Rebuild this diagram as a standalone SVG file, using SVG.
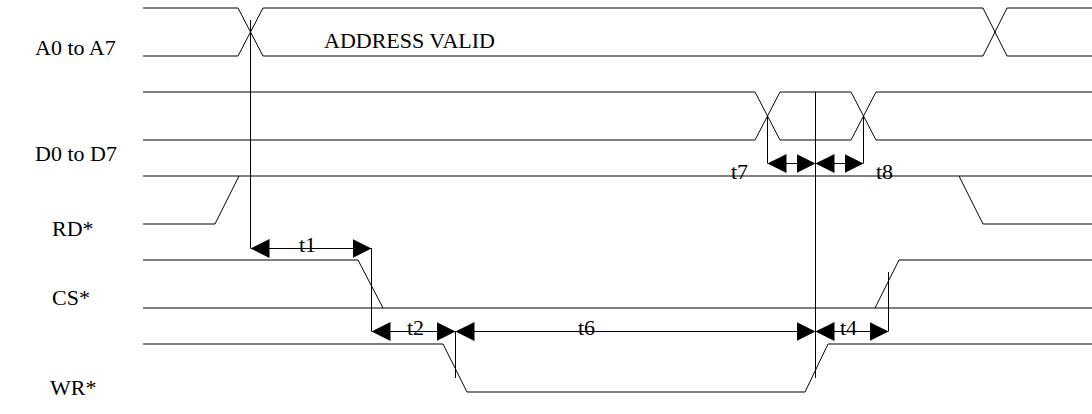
<svg xmlns="http://www.w3.org/2000/svg" width="1092" height="414" viewBox="0 0 1092 414">
<style>
  .bg { fill: #ffffff; }
  .guide { fill: none; stroke: #000; stroke-width: 1; }
  .edge { fill: none; stroke: #000; stroke-width: 1; }
  .dim { fill: none; stroke: #000; stroke-width: 1; marker-start: url(#arr); marker-end: url(#arr); }
  text { font-family: 'Liberation Serif', 'Times New Roman', serif; font-size: 22px; fill: #000; }
</style>
<defs>
  <marker id="arr" markerUnits="userSpaceOnUse" markerWidth="20" markerHeight="19" refX="19" refY="9.5" orient="auto-start-reverse" viewBox="0 0 20 19">
    <path d="M0,0 L19,9.5 L0,19 Z" fill="#000"/>
  </marker>
</defs>
<rect class="bg" x="0" y="0" width="1092" height="414"/>

<g id="sig-a">
  <text x="35" y="55">A0 to A7</text>
  <path class="guide" d="M143,8 H238 L263,56 H983 L1007,8 H1092"/>
  <path class="guide" d="M143,56 H238 L263,8 H983 L1007,56 H1092"/>
  <text x="324" y="48">ADDRESS VALID</text>
</g>

<g id="sig-d">
  <text x="35" y="161">D0 to D7</text>
  <path class="guide" d="M143,92 H755 L780,140 H851 L876,92 H1092"/>
  <path class="guide" d="M143,140 H755 L780,92 H851 L876,140 H1092"/>
</g>

<g id="sig-rd">
  <text x="52" y="236">RD*</text>
  <path class="guide" d="M143,176 H1092"/>
  <path class="edge" d="M143,224 H215 L239,176"/>
  <path class="edge" d="M959,176 L983,224 H1092"/>
</g>

<g id="sig-cs">
  <text x="52" y="305">CS*</text>
  <path class="edge" d="M143,260 H358 L383,308"/>
  <path class="guide" d="M143,308 H1092"/>
  <path class="edge" d="M875,308 L899,260 H1092"/>
</g>

<g id="sig-wr">
  <text x="50" y="395">WR*</text>
  <path class="edge" d="M143,344 H443 L467,392 H805 L828,344 H1092"/>
</g>

<g id="connectors">
  <path class="edge" d="M250.5,20 V248"/>
  <path class="edge" d="M371.5,248 V331"/>
  <path class="edge" d="M455.5,331 V378"/>
  <path class="edge" d="M888.5,272 V331"/>
  <path class="edge" d="M767.5,116 V163"/>
  <path class="edge" d="M863.5,116 V163"/>
  <path class="edge" d="M815.5,92 V378"/>

  <line class="dim" x1="250.5" y1="248.5" x2="371.5" y2="248.5"/>
  <line class="dim" x1="371.5" y1="331.5" x2="455.5" y2="331.5"/>
  <line class="dim" x1="455.5" y1="331.5" x2="815.5" y2="331.5"/>
  <line class="dim" x1="815.5" y1="331.5" x2="888.5" y2="331.5"/>
  <line class="dim" x1="767.5" y1="163.5" x2="815.5" y2="163.5"/>
  <line class="dim" x1="815.5" y1="163.5" x2="863.5" y2="163.5"/>

  <text x="299" y="252">t1</text>
  <text x="407" y="335">t2</text>
  <text x="578" y="335">t6</text>
  <text x="840" y="335">t4</text>
  <text x="731" y="179">t7</text>
  <text x="876" y="179">t8</text>
</g>
</svg>
